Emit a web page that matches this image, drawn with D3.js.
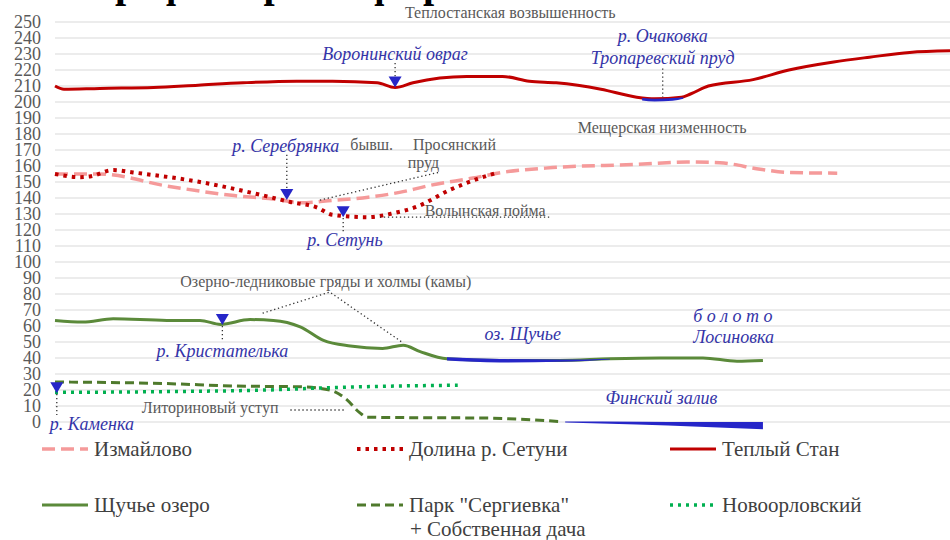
<!DOCTYPE html>
<html>
<head>
<meta charset="utf-8">
<script src="https://cdn.jsdelivr.net/npm/d3@7"></script>
<style>
  body { margin: 0; background: #fff; }
  svg text { font-family: 'Liberation Serif'; }
</style>
</head>
<body>
<div id="chart"></div>
<script>
// Variables
var width = 950,
	height = 540,
	margin = {left: 55, right: 0, top: 22, bottom: 118},
	serif = "'Liberation Serif'";

// elevation profiles: [distance (0-100), elevation m]
var teplyiStan = [[0,210],[1,208],[5,208.5],[11,209],[16,210.5],[21,212],[27,213],[31,213],[36,212],[38,209],
	[40,212],[43,215],[46,216],[50,216],[53,213],[56,212],[61,208],[65,203],[67,202],[70,203],[71,205],
	[73,210],[78,214],[82,220],[87,225],[91,228],[95.5,231],[100,232]];
var izmailovo = [[0,155],[5,155],[12.5,147.5],[20,141.5],[25,139],[27.4,137],[31,138.5],[35,140.5],[38.5,143.5],
	[42,148],[46.7,152.5],[50,156],[55.6,159],[65,161],[70.6,162.5],[74.3,162],[78.8,158],[81.8,156],[87.4,155.5]];
var dolinaSetuni = [[0,155],[2.8,153],[3.9,153.5],[6.5,157.5],[8.7,156],[16.2,150],[23.7,141],[26.3,137.5],
	[29.3,134],[31,129.5],[34.9,128],[37.8,130.5],[40.4,134.5],[44.1,145],[47.5,152.5],[49.2,155.5]];
var shchuchye = [[0,63.5],[3.1,62.5],[6.5,64.5],[12.5,63.5],[16.2,63.5],[18.5,61],[21.8,64],[24.4,63.5],
	[27.4,59.5],[30,51],[33,47.5],[36.6,46],[38.9,48],[40.8,44],[43.8,39.5],[49.7,38.5],[56.4,38.5],[62,39.5],
	[67.6,40],[72.4,40],[76.2,38],[79.1,38.5]];
var sergievka = [[0,25],[12.5,24],[20,22.5],[27.4,22],[30.7,20],[32.6,14],[34,6],[34.9,3],[40,2.7],[47.5,2.5],[56.4,0.3]];
var novoorlovsky = [[0,18.5],[12.5,19],[23.7,20],[31,21.5],[38.5,22.5],[45,23]];

// water bodies: [distance, top, bottom]
var tropPond = [[65.6,202.5,201],[67,202,200.3],[69,202.5,200.8],[70.2,203,202]];
var lakeShchuchye = [[43.8,40.4,38.4],[49.7,39.4,37.2],[56.4,39,37.6],[62,39.6,39.1]];
var finGulf = [[57,0.3,-0.3],[65,0.2,-1.6],[72,0,-3],[79.1,0,-4.6]];

var yTicks = d3.range(0, 251, 10);

// river markers: [distance, elevation]
var rivers = [[38,209],[25.9,138.7],[32.2,128],[18.7,60.6],[0.2,18]];

// labels: [text, distance, elevation, anchor]
var blueLabels = [
	["Воронинский овраг", 38, 226, "middle"],
	["р. Очаковка", 67.9, 237.5, "middle"],
	["Тропаревский пруд", 67.9, 223.7, "middle"],
	["р. Серебрянка", 19.8, 168.7, "start"],
	["р. Сетунь", 32.4, 110, "middle"],
	["р. Кристателька", 18.7, 40.6, "middle"],
	["оз. Щучье", 48, 51.2, "start"],
	["б о л о т о", 71.3, 62.5, "start"],
	["Лосиновка", 71.3, 49.4, "start"],
	["Финский залив", 61.5, 11.2, "start"],
	["р. Каменка", -0.6, -5, "start"]
];
var grayLabels = [
	["Теплостанская возвышенность", 39.1, 252.5],
	["Мещерская низменность", 58.4, 180.6],
	["бывш.", 33, 170],
	["Просянский", 40, 170],
	["пруд", 39.4, 158.7],
	["Волынская пойма", 41.3, 128.7],
	["Озерно-ледниковые гряды и холмы (камы)", 14, 84.4],
	["Литориновый уступ", 9.7, 5.6]
];
// dotted leader lines
var leaders = [
	[[38,224.4],[38,213.7]],
	[[67.9,221],[67.9,203]],
	[[25.9,167],[25.9,144]],
	[[32.2,127.5],[32.2,118.7]],
	[[18.7,60],[18.7,50]],
	[[0.2,17.5],[0.2,4.4]],
	[[29.6,138.7],[43,156.2]],
	[[36.3,128],[55.3,128]],
	[[23.2,68],[30.7,81.2],[38.9,49.4]],
	[[26.3,7.5],[32.4,7.5]]
];

var series = [
	{name: "Измайлово", data: izmailovo, color: "#f59a9a", dash: "13,6", w: 3.5},
	{name: "Долина р. Сетуни", data: dolinaSetuni, color: "#c00000", dash: "3.5,5", w: 4},
	{name: "Теплый Стан", data: teplyiStan, color: "#c00000", dash: null, w: 3},
	{name: "Щучье озеро", data: shchuchye, color: "#5b8a3a", dash: null, w: 3},
	{name: "Парк \"Сергиевка\"", name2: "+ Собственная дача", data: sergievka, color: "#4f7a2c", dash: "9,5", w: 3},
	{name: "Новоорловский", data: novoorlovsky, color: "#00b050", dash: "3,5", w: 3.5}
];

var blue = "#2626c8", labelBlue = "#3434a8", gray = "#595959";

var x = d3.scaleLinear().domain([0, 100]).range([margin.left, width - margin.right]);
var y = d3.scaleLinear().domain([0, 250]).range([height - margin.bottom, margin.top]);

var svg = d3.select("#chart").append("svg")
	.attr("width", width)
	.attr("height", height);

// clipped title (only the lower part shows in the original)
svg.append("text")
	.style("font-family", serif)
	.attr("x", 84).attr("y", -3)
	.style("font-size", "40px").style("font-weight", "bold").attr("fill", "#000")
	.text("Профили рельефа районов");

// grid
svg.append("g").selectAll("line")
	.data(yTicks).enter().append("line")
	.attr("x1", margin.left).attr("x2", width)
	.attr("y1", function(d) { return y(d); }).attr("y2", function(d) { return y(d); })
	.attr("stroke", "#d9d9d9").attr("stroke-width", 1.2);

// y axis labels (drawn from the scale; d3.axis forces sans-serif on its group)
svg.append("g").selectAll("text")
	.data(yTicks).enter().append("text")
	.style("font-family", serif)
	.attr("x", 41)
	.attr("y", function(d) { return y(d); })
	.attr("dy", "0.34em")
	.attr("text-anchor", "end")
	.style("font-size", "18px").attr("fill", gray)
	.text(function(d) { return d; });

var line = d3.line()
	.x(function(d) { return x(d[0]); })
	.y(function(d) { return y(d[1]); })
	.curve(d3.curveMonotoneX);

var area = d3.area()
	.x(function(d) { return x(d[0]); })
	.y0(function(d) { return y(d[2]); })
	.y1(function(d) { return y(d[1]); })
	.curve(d3.curveMonotoneX);

// series lines
svg.append("g").selectAll("path")
	.data(series).enter().append("path")
	.attr("d", function(d) { return line(d.data); })
	.attr("fill", "none")
	.attr("stroke", function(d) { return d.color; })
	.attr("stroke-width", function(d) { return d.w; })
	.attr("stroke-dasharray", function(d) { return d.dash; })
	.attr("stroke-linejoin", "round");

// water
[tropPond, lakeShchuchye, finGulf].forEach(function(w) {
	svg.append("path").attr("d", area(w)).attr("fill", blue);
});

// leaders
svg.append("g").selectAll("path")
	.data(leaders).enter().append("path")
	.attr("d", d3.line().x(function(d) { return x(d[0]); }).y(function(d) { return y(d[1]); }))
	.attr("fill", "none").attr("stroke", "#333").attr("stroke-width", 1.3)
	.attr("stroke-dasharray", "1.3,2.7");

// river markers (down triangles, tip on the line)
svg.append("g").selectAll("path")
	.data(rivers).enter().append("path")
	.attr("d", function(d) {
		var px = x(d[0]), py = y(d[1]);
		return "M" + (px - 6.5) + "," + (py - 11) + "L" + (px + 6.5) + "," + (py - 11) + "L" + px + "," + py + "Z";
	})
	.attr("fill", blue);

// labels
svg.append("g").selectAll("text")
	.data(grayLabels).enter().append("text")
	.style("font-family", serif)
	.attr("x", function(d) { return x(d[1]); })
	.attr("y", function(d) { return y(d[2]); })
	.style("font-size", "16px").attr("fill", gray)
	.text(function(d) { return d[0]; });

svg.append("g").selectAll("text")
	.data(blueLabels).enter().append("text")
	.style("font-family", serif)
	.attr("x", function(d) { return x(d[1]); })
	.attr("y", function(d) { return y(d[2]); })
	.attr("text-anchor", function(d) { return d[3]; })
	.style("font-size", "18px").style("font-style", "italic").attr("fill", labelBlue)
	.text(function(d) { return d[0]; });

// legend
var legendX = [42, 357, 670], legendY = [449, 505];
var legend = svg.append("g").selectAll("g")
	.data(series).enter().append("g")
	.attr("transform", function(d, i) {
		return "translate(" + legendX[i % 3] + "," + legendY[Math.floor(i / 3)] + ")";
	});
legend.append("line")
	.attr("x1", 0).attr("x2", 46).attr("y1", 0).attr("y2", 0)
	.attr("stroke", function(d) { return d.color; })
	.attr("stroke-width", function(d) { return d.w; })
	.attr("stroke-dasharray", function(d) { return d.dash; });
legend.append("text")
	.style("font-family", serif)
	.attr("x", 52).attr("y", 7)
	.style("font-size", "21px").attr("fill", "#404040")
	.text(function(d) { return d.name; });
legend.filter(function(d) { return d.name2; }).append("text")
	.style("font-family", serif)
	.attr("x", 53).attr("y", 31)
	.style("font-size", "21px").attr("fill", "#404040")
	.text(function(d) { return d.name2; });
</script>
</body>
</html>
